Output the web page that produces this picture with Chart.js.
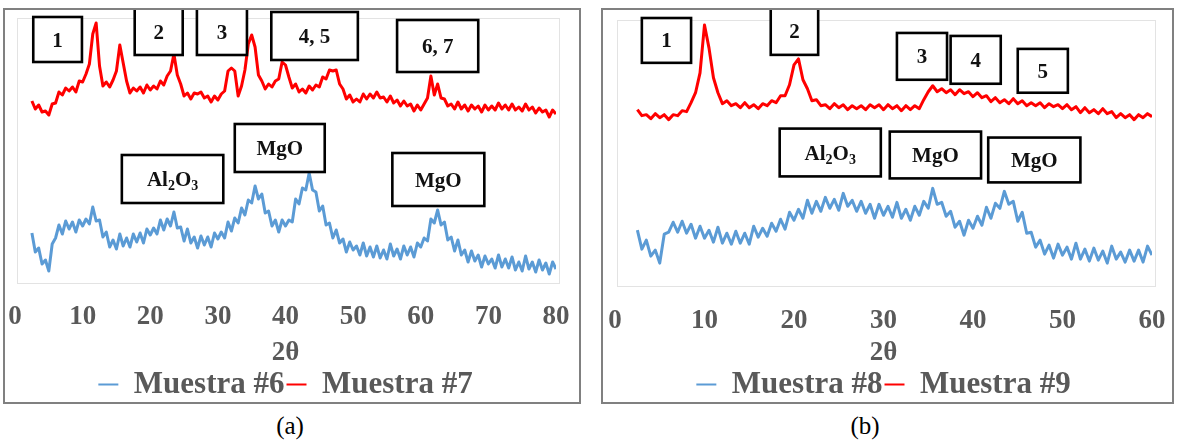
<!DOCTYPE html>
<html><head><meta charset="utf-8">
<script src="https://cdn.jsdelivr.net/npm/chart.js@4.4.1/dist/chart.umd.min.js"></script>
<style>
html,body{margin:0;padding:0;background:#fff;}
body{width:1177px;height:443px;position:relative;overflow:hidden;font-family:"Liberation Serif","Times New Roman",serif;}
.frame{position:absolute;box-sizing:border-box;border:2px solid #808080;}
canvas{position:absolute;}
.cap{position:absolute;font-size:25px;color:#000;width:100px;text-align:center;line-height:28px;}
</style></head><body>
<div class="frame" style="left:3px;top:8px;width:578px;height:396px"></div>
<div class="frame" style="left:601px;top:8px;width:573px;height:396px"></div>
<canvas id="ca" width="574" height="400" style="left:5px;top:10px"></canvas>
<canvas id="cb" width="569" height="400" style="left:603px;top:10px"></canvas>
<div class="cap" style="left:240px;top:412px">(a)</div>
<div class="cap" style="left:815px;top:412px">(b)</div>
<script>
// ---- Panel (a) ----
const thetaA = [2.5,3,3.5,4,4.5,5,5.5,6,6.5,7,
7.5,8,8.5,9,9.5,10,10.5,11,11.5,12,
12.5,13,13.5,14,14.5,15,15.5,16,16.5,17,
17.5,18,18.5,19,19.5,20,20.5,21,21.5,22,
22.5,23,23.5,24,24.5,25,25.5,26,26.5,27,
27.5,28,28.5,29,29.5,30,30.5,31,31.5,32,
32.5,33,33.5,34,34.5,35,35.5,36,36.5,37,
37.5,38,38.5,39,39.5,40,40.5,41,41.5,42,
42.5,43,43.5,44,44.5,45,45.5,46,46.5,47,
47.5,48,48.5,49,49.5,50,50.5,51,51.5,52,
52.5,53,53.5,54,54.5,55,55.5,56,56.5,57,
57.5,58,58.5,59,59.5,60,60.5,61,61.5,62,
62.5,63,63.5,64,64.5,65,65.5,66,66.5,67,
67.5,68,68.5,69,69.5,70,70.5,71,71.5,72,
72.5,73,73.5,74,74.5,75,75.5,76,76.5,77,
77.5,78,78.5,79,79.5,80];
const muestra6 = [50,31,35,19,23,12,39,45,58,49,
62,54,61,51,63,57,64,59,76,62,
63,46,51,36,43,34,49,37,45,36,
49,41,50,40,54,48,55,49,63,53,
64,57,71,55,56,42,54,40,46,35,
47,38,46,36,50,44,51,45,61,52,
65,60,75,68,83,80,97,84,89,70,
72,57,63,51,63,57,63,61,84,79,
95,93,110,93,91,72,77,58,60,45,
53,40,44,31,41,33,37,28,40,27,
36,26,37,25,33,24,39,27,34,24,
37,28,36,26,40,36,45,42,64,60,
73,58,61,43,46,32,43,28,33,21,
32,22,28,16,27,19,24,15,28,16,
24,15,26,13,21,12,27,14,21,11,
23,13,20,9,21,14];
const muestra7 = [182,174,178,171,172,168,179,180,191,188,
195,192,196,191,202,201,209,219,249,260,
217,197,201,196,203,212,238,220,202,190,
195,192,196,190,198,193,197,194,202,198,
207,212,229,208,199,187,190,184,190,189,
191,185,187,181,187,183,189,192,212,215,
212,187,197,213,239,248,236,208,202,194,
199,196,202,204,221,218,206,195,199,191,
194,190,197,193,198,196,206,204,213,212,
213,199,194,184,188,181,184,181,189,184,
189,185,191,185,186,181,187,180,183,177,
182,177,179,172,178,173,179,185,207,188,
199,185,184,177,179,174,181,174,178,172,
178,174,177,171,178,173,177,173,180,174,
178,173,179,173,176,172,179,173,176,170,
175,171,173,166,173,169];
const ticksA = [0,10,20,30,40,50,60,70,80];

// ---- Panel (b) ----
const thetaB = [2.5,3,3.5,4,4.5,5,5.5,6,6.5,7,
7.5,8,8.5,9,9.5,10,10.5,11,11.5,12,
12.5,13,13.5,14,14.5,15,15.5,16,16.5,17,
17.5,18,18.5,19,19.5,20,20.5,21,21.5,22,
22.5,23,23.5,24,24.5,25,25.5,26,26.5,27,
27.5,28,28.5,29,29.5,30,30.5,31,31.5,32,
32.5,33,33.5,34,34.5,35,35.5,36,36.5,37,
37.5,38,38.5,39,39.5,40,40.5,41,41.5,42,
42.5,43,43.5,44,44.5,45,45.5,46,46.5,47,
47.5,48,48.5,49,49.5,50,50.5,51,51.5,52,
52.5,53,53.5,54,54.5,55,55.5,56,56.5,57,
57.5,58,58.5,59,59.5,60];
const muestra8 = [56,37,46,30,36,23,52,54,64,54,
65,53,62,48,60,48,56,44,59,43,
53,42,55,43,53,42,60,49,58,50,
63,55,67,57,74,66,77,68,86,73,
85,75,89,78,87,76,93,80,86,75,
85,73,82,68,82,71,80,69,84,68,
77,66,80,71,85,78,98,82,84,70,
75,59,65,51,66,58,70,61,79,68,
83,78,95,82,85,65,74,53,54,39,
46,32,41,28,42,31,39,27,43,27,
37,25,38,26,35,23,40,27,34,24,
36,25,36,24,40,31];
const muestra9 = [177,171,172,168,173,169,172,167,172,171,
176,175,184,194,214,262,239,209,194,183,
186,181,183,179,184,179,182,178,183,181,
186,184,191,191,202,222,228,207,198,186,
187,181,182,178,183,179,182,177,181,178,
181,177,182,179,182,177,182,178,181,176,
181,177,181,178,187,195,201,195,198,194,
197,192,197,193,195,190,194,189,191,185,
189,184,187,183,188,183,186,181,184,181,
184,179,183,180,182,178,182,177,180,174,
179,174,177,173,178,173,175,169,173,169,
172,167,172,169,173,170];
const ticksB = [0,10,20,30,40,50,60];

// ---- Peak label boxes (2θ / intensity units) ----
const boxesA = [
 {text:'1', x0:2.7, x1:9.9, y0:221, y1:266},
 {text:'2', x0:17.7, x1:24.8, y0:228, y1:275},
 {text:'3', x0:26.9, x1:34.3, y0:228, y1:275},
 {text:'4, 5', x0:37.9, x1:50.7, y0:223, y1:271},
 {text:'6, 7', x0:56.5, x1:68.5, y0:211, y1:263},
 {text:'Al_2O_3', x0:15.8, x1:30.8, y0:80, y1:128},
 {text:'MgO', x0:32.5, x1:45.8, y0:111, y1:159},
 {text:'MgO', x0:55.8, x1:69.4, y0:77, y1:130}
];
const boxesB = [
 {text:'1', x0:3.0, x1:8.5, y0:224, y1:269},
 {text:'2', x0:17.4, x1:22.7, y0:232, y1:279},
 {text:'3', x0:31.5, x1:37.1, y0:207, y1:254},
 {text:'4', x0:37.5, x1:43.1, y0:203, y1:251},
 {text:'5', x0:45.0, x1:50.6, y0:194, y1:238},
 {text:'Al_2O_3', x0:18.4, x1:29.7, y0:110, y1:158},
 {text:'MgO', x0:30.7, x1:40.9, y0:108, y1:155},
 {text:'MgO', x0:41.7, x1:52.0, y0:104, y1:149}
];

const FAM = "'Liberation Serif', 'Times New Roman', serif";
const GRAY = '#595959';
const BLUE = '#5b9bd5';
const RED = '#ff0000';

const boxPlugin = {
  id: 'peakBoxes',
  beforeDatasetsDraw(chart) {
    const {ctx, chartArea: a} = chart;
    ctx.save();
    ctx.strokeStyle = '#e3e3e3';
    ctx.lineWidth = 1;
    ctx.strokeRect(a.left + 2.5, a.top + 0.5, a.right - a.left + 1, a.bottom - a.top);
    ctx.restore();
  },
  afterDatasetsDraw(chart, args, opts) {
    const {ctx, scales: {x, y}} = chart;
    ctx.save();
    for (const b of opts.items) {
      const l = x.getPixelForValue(b.x0), r = x.getPixelForValue(b.x1);
      const t = y.getPixelForValue(b.y1), btm = y.getPixelForValue(b.y0);
      ctx.fillStyle = '#fff';
      ctx.fillRect(l, t, r - l, btm - t);
      ctx.lineWidth = 2.6;
      ctx.strokeStyle = '#000';
      ctx.strokeRect(l, t, r - l, btm - t);
      const raw = b.text.split('_');
      const parts = [{s: raw[0], sub: false}];
      for (let i = 1; i < raw.length; i++) {
        parts.push({s: raw[i].charAt(0), sub: true});
        if (raw[i].length > 1) parts.push({s: raw[i].slice(1), sub: false});
      }
      const fN = "bold 21px " + FAM, fS = "bold 14px " + FAM;
      let w = 0;
      for (const p of parts) { ctx.font = p.sub ? fS : fN; p.w = ctx.measureText(p.s).width; w += p.w; }
      let cx = (l + r) / 2 - w / 2;
      const base = (t + btm) / 2 + 7;
      ctx.fillStyle = '#111';
      ctx.textBaseline = 'alphabetic';
      ctx.textAlign = 'left';
      for (const p of parts) {
        ctx.font = p.sub ? fS : fN;
        ctx.fillText(p.s, cx, base + (p.sub ? 4 : 0));
        cx += p.w;
      }
    }
    ctx.restore();
  }
};

function makeChart(id, theta, s1, s2, n1, n2, ticks, xmax, ymax, boxes, pad, tickGap, titlePad) {
  const legendLabels = (chart) => Chart.defaults.plugins.legend.labels.generateLabels(chart)
    .map(l => Object.assign(l, {lineWidth: 0}));
  return new Chart(document.getElementById(id), {
    type: 'line',
    data: {
      datasets: [
        {label: n1, data: theta.map((t, i) => ({x: t, y: s1[i]})), borderColor: BLUE, backgroundColor: BLUE,
         borderWidth: 3, pointRadius: 0, tension: 0, borderJoinStyle: 'round'},
        {label: n2, data: theta.map((t, i) => ({x: t, y: s2[i]})), borderColor: RED, backgroundColor: RED,
         borderWidth: 3, pointRadius: 0, tension: 0, borderJoinStyle: 'round'}
      ]
    },
    options: {
      responsive: false,
      animation: false,
      devicePixelRatio: 1,
      layout: {padding: pad},
      scales: {
        x: {
          type: 'linear', min: 0, max: xmax,
          afterBuildTicks(s) { s.ticks = ticks.map(v => ({value: v})); },
          grid: {display: false, drawTicks: true, tickLength: tickGap}, border: {display: false},
          ticks: {color: GRAY, font: {family: FAM, size: 27, weight: 'bold', lineHeight: 1}, padding: 0, maxRotation: 0, autoSkip: false},
          title: {display: true, text: '2θ', color: GRAY, font: {family: FAM, size: 27, weight: 'bold', lineHeight: 1}, padding: {top: titlePad, bottom: 0}}
        },
        y: {display: false, min: 0, max: ymax}
      },
      plugins: {
        legend: {
          position: 'bottom',
          labels: {color: GRAY, font: {family: FAM, size: 31, weight: 'bold'}, boxWidth: 20, boxHeight: 2, padding: 2,
                   generateLabels: legendLabels}
        },
        tooltip: {enabled: false},
        peakBoxes: {items: boxes}
      }
    },
    plugins: [boxPlugin]
  });
}

makeChart('ca', thetaA, muestra6, muestra7, 'Muestra #6', 'Muestra #7', ticksA, 80, 265, boxesA,
  {left: 10, right: 23, top: 8, bottom: 0}, 20.5, 9.5);
makeChart('cb', thetaB, muestra8, muestra9, 'Muestra #8', 'Muestra #9', ticksB, 60, 267, boxesB,
  {left: 12, right: 20, top: 10, bottom: 0}, 21.5, 5.5);
</script>
</body></html>
